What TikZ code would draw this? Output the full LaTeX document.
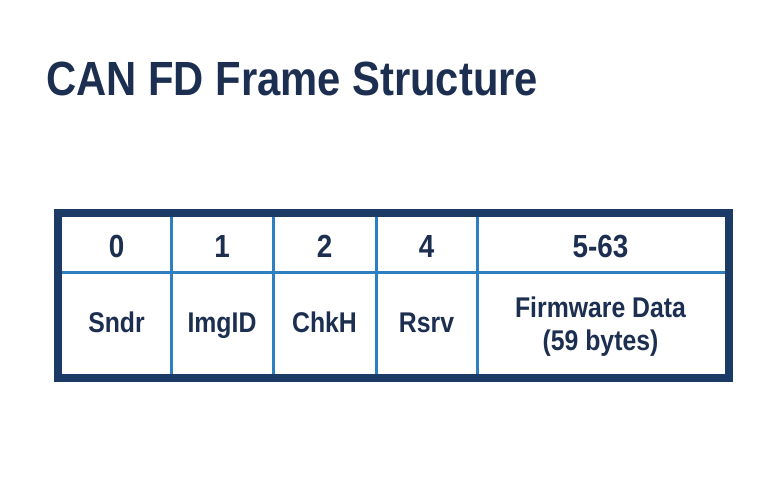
\documentclass[tikz,border=0pt]{standalone}
\usepackage{fontspec}
\setmainfont{Liberation Sans}[FakeStretch=0.87]
\definecolor{navy}{HTML}{1B3A66}
\definecolor{ink}{HTML}{1C2F50}
\definecolor{grid}{HTML}{2D7FBF}
\begin{document}
\begin{tikzpicture}[x=1pt,y=-1pt,
  hdr/.style={anchor=base,text=ink,font=\fontsize{32}{34}\selectfont\bfseries,inner sep=0pt},
  lbl/.style={anchor=base,text=ink,font=\fontsize{28.5}{34}\selectfont\bfseries,inner sep=0pt},
  gridline/.style={draw=grid,line width=3pt},
  frame/.style={draw=navy,line width=8pt}]
\useasboundingbox[fill=white] (0,0) rectangle (760,482);
\node[anchor=base west,text=ink,font=\fontsize{48}{52}\selectfont\bfseries,inner sep=0pt] (title) at (46,95) {CAN FD Frame Structure};
% grid
\draw[gridline] (58,272) -- (729,272);
\foreach \x in {171,273,376,477} \draw[gridline] (\x,213) -- (\x,378);
\draw[frame] (58,213) rectangle (729,378);
% header row
\node[hdr] (h0) at (116.5,257) {0};
\node[hdr] (h1) at (222,257) {1};
\node[hdr] (h2) at (324.5,257) {2};
\node[hdr] (h4) at (426.5,257) {4};
\node[hdr] (h5) at (600.5,257) {5-63};
% label row
\node[lbl] (l0) at (116.5,332) {Sndr};
\node[lbl] (l1) at (222,332) {ImgID};
\node[lbl] (l2) at (324.5,332) {ChkH};
\node[lbl] (l4) at (426.5,332) {Rsrv};
\node[lbl] (l5a) at (600.5,317) {Firmware Data};
\node[lbl] (l5b) at (600.5,350) {(59 bytes)};
\end{tikzpicture}
\end{document}
